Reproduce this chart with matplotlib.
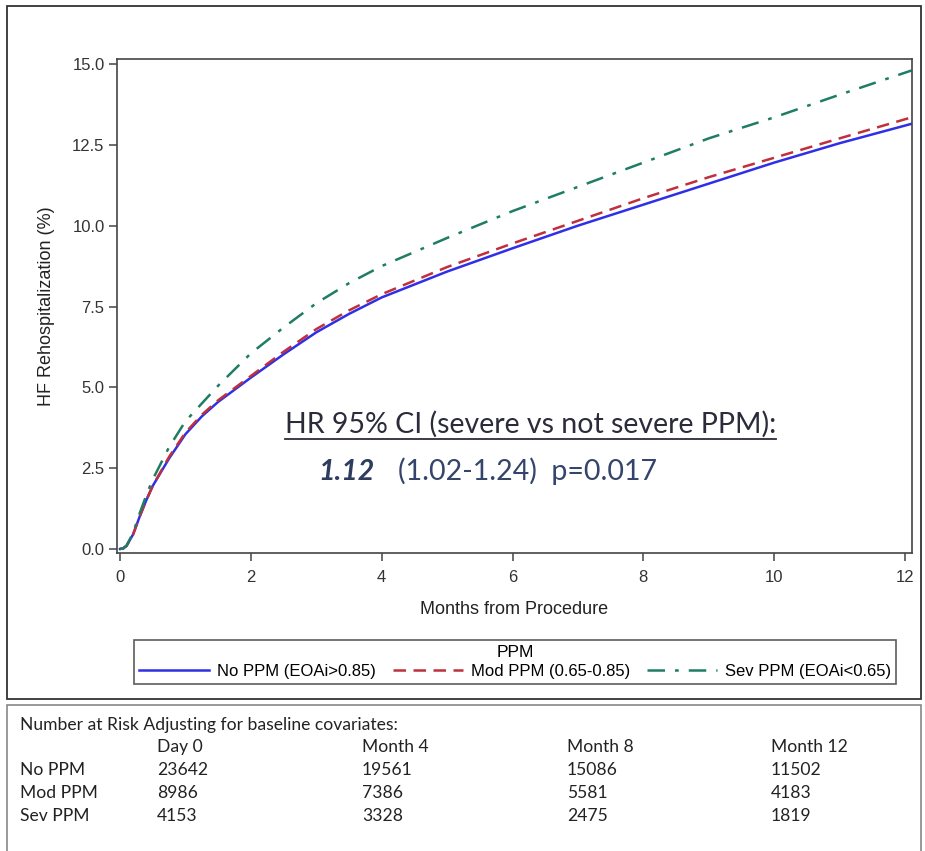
import numpy as np
import matplotlib.pyplot as plt
from matplotlib.patches import Rectangle
from matplotlib.lines import Line2D

months = [0, 0.05, 0.1, 0.2, 0.3, 0.4, 0.5, 0.75, 1, 1.25, 1.5, 2, 2.5, 3, 3.5, 4, 5, 6, 7, 8, 9, 10, 11, 12.1]
no_ppm = [0, 0.02, 0.1, 0.45, 1.0, 1.5, 1.95, 2.8, 3.55, 4.1, 4.55, 5.3, 6.02, 6.7, 7.27, 7.78, 8.58, 9.3, 10.0, 10.65, 11.3, 11.95, 12.55, 13.15]
mod_ppm = [0, 0.02, 0.1, 0.45, 1.0, 1.5, 1.95, 2.85, 3.6, 4.15, 4.6, 5.35, 6.1, 6.8, 7.38, 7.88, 8.72, 9.45, 10.15, 10.85, 11.5, 12.1, 12.7, 13.35]
sev_ppm = [0, 0.02, 0.1, 0.5, 1.1, 1.65, 2.15, 3.15, 3.95, 4.5, 5.05, 6.05, 6.85, 7.6, 8.22, 8.75, 9.62, 10.45, 11.2, 11.95, 12.7, 13.35, 14.05, 14.8]
labels = ['No PPM (EOAi>0.85)', 'Mod PPM (0.65-0.85)', 'Sev PPM (EOAi<0.65)']

risk_cols = ['Day 0', 'Month 4', 'Month 8', 'Month 12']
risk_rows = ['No PPM', 'Mod PPM', 'Sev PPM']
risk_vals = [[23642, 19561, 15086, 11502],
             [8986, 7386, 5581, 4183],
             [4153, 3328, 2475, 1819]]

W, H = 925, 851
fig = plt.figure(figsize=(W / 100, H / 100), dpi=100)
ax = fig.add_axes([117 / W, 1 - 553 / H, (912 - 117) / W, (553 - 59) / H])

c_blue = '#2f2fe8'
c_red = '#c0303c'
c_green = '#1f7d66'
ax.plot(months, no_ppm, color=c_blue, lw=1.8, ls='-', label=labels[0])
ax.plot(months, mod_ppm, color=c_red, lw=1.8, ls=(0, (5, 3)), label=labels[1])
ax.plot(months, sev_ppm, color=c_green, lw=1.8, ls=(0, (7, 4, 1.5, 4)), label=labels[2])

ax.set_xlim(-0.046, 12.107)
ax.set_ylim(-0.124, 15.155)
ax.set_xticks([0, 2, 4, 6, 8, 10, 12])
ax.set_yticks([0, 2.5, 5, 7.5, 10, 12.5, 15])
ax.set_yticklabels(['0.0', '2.5', '5.0', '7.5', '10.0', '12.5', '15.0'])
for s in ax.spines.values():
    s.set_color('#444444')
    s.set_linewidth(1.2)
ax.tick_params(direction='out', length=6, width=1.1, color='#444444', labelcolor='#333333', labelsize=12)
ax.tick_params(axis='x', pad=6)
ax.tick_params(axis='y', pad=3)
for t in ax.get_xticklabels() + ax.get_yticklabels():
    t.set_family('Liberation Sans')
ax.set_xlabel('Months from Procedure', family='Liberation Sans', fontsize=13, color='#222222', labelpad=12)
ax.set_ylabel('HF Rehospitalization (%)', family='Liberation Sans', fontsize=13, color='#222222', labelpad=12)

# HR annotation
hr = ax.text(6.27, 3.6, 'HR 95% CI (severe vs not severe PPM):', ha='center', va='baseline',
             family='Lato', fontsize=20.5, color='#2b2b3a')
ax.text(3.03, 2.14, '1.12', ha='left', va='baseline', family='Lato', fontsize=20.5,
        fontweight='bold', fontstyle='italic', color='#2e3c5e')
ax.text(4.25, 2.14, '(1.02-1.24)  p=0.017', ha='left', va='baseline', family='Lato', fontsize=20.5, color='#34446a')

fig.canvas.draw()
bb = hr.get_window_extent().transformed(fig.transFigure.inverted())
fig.add_artist(Line2D([bb.x0, bb.x1], [bb.y0 - 0.002, bb.y0 - 0.002], color='#2b2b3a', lw=1.3))

leg = fig.legend(loc='center', bbox_to_anchor=((125 + 905) / 2 / W, 1 - 662 / H), ncol=3,
                 title='PPM', frameon=True, fancybox=False, edgecolor='#333333',
                 prop={'family': 'Liberation Sans', 'size': 12}, handlelength=4.2,
                 columnspacing=1.0, handletextpad=0.5, borderpad=0.3, labelspacing=0.2)
leg.get_title().set_family('Liberation Sans')
leg.get_title().set_fontsize(12.5)
leg.get_frame().set_linewidth(1.2)

# panel frames
fig.add_artist(Rectangle((7 / W, 1 - 699 / H), (921 - 7) / W, (699 - 6) / H, transform=fig.transFigure,
                         fill=False, edgecolor='#333333', lw=1.3))
fig.add_artist(Rectangle((7 / W, -0.01), (921 - 7) / W, 1 - 705 / H + 0.01, transform=fig.transFigure,
                         fill=False, edgecolor='#888888', lw=1.2))

# number at risk table
tf = dict(family='Lato', fontsize=12.6, color='#222222', va='center')
fig.text(20 / W, 1 - 725 / H, 'Number at Risk Adjusting for baseline covariates:', **tf)
col_x = [157, 362, 567, 771]
for j, c in enumerate(risk_cols):
    fig.text(col_x[j] / W, 1 - 747 / H, c, **tf)
row_y = [770, 793, 816]
for i, r in enumerate(risk_rows):
    fig.text(20 / W, 1 - row_y[i] / H, r, **tf)
    for j in range(len(risk_cols)):
        fig.text(col_x[j] / W, 1 - row_y[i] / H, str(risk_vals[i][j]), **tf)

fig.savefig('out.png', dpi=100)
